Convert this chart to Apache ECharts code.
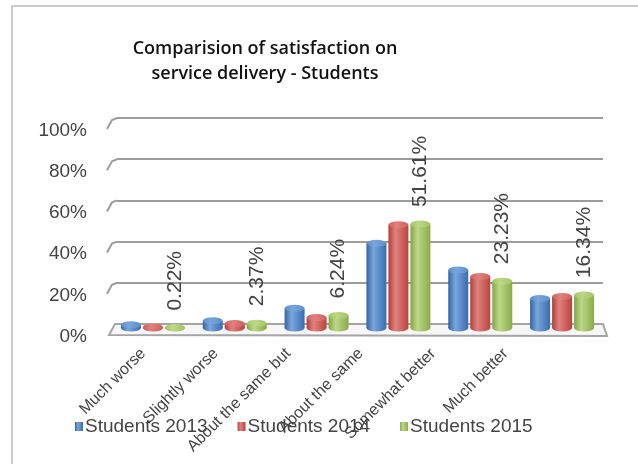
<!DOCTYPE html>
<html>
<head>
<meta charset="utf-8">
<script src="https://cdn.jsdelivr.net/npm/echarts@6/dist/echarts.min.js"></script>
<style>
  html, body { margin: 0; padding: 0; background: #ffffff; }
  #chart { width: 638px; height: 464px; }
</style>
</head>
<body>
<div id="chart"></div>
<script>
// Response categories and yearly shares (percent of students)
const categories = ['Much worse', 'Slightly worse', 'About the same but', 'About the same', 'Somewhat better', 'Much better'];
const seriesNames = ['Students 2013', 'Students 2014', 'Students 2015'];
const students2013 = [1.6, 3.6, 9.8, 42.0, 28.8, 14.7];
const students2014 = [0.5, 2.2, 5.2, 51.3, 25.6, 15.6];
const students2015 = [0.22, 2.37, 6.24, 51.61, 23.23, 16.34];
const yTicks = [0, 20, 40, 60, 80, 100];
const titleLines = ['Comparision of satisfaction on', 'service delivery - Students'];

// Cylinder shading per series: [edge, highlight, far edge, cap]
const palettes = [
  ['#3464a2', '#78a6dc', '#3a6cb0', '#5d8fcc'],
  ['#b03e3b', '#e0817e', '#b9443f', '#d0615d'],
  ['#84a444', '#bcd887', '#8bab4a', '#a3c463']
];
const values = [students2013, students2014, students2015];
const barW = 20;
const offsets = [-22, 0, 22];

function bodyGradient(p) {
  return new echarts.graphic.LinearGradient(0, 0, 1, 0, [
    { offset: 0, color: p[0] },
    { offset: 0.35, color: p[1] },
    { offset: 1, color: p[2] }
  ]);
}
function capGradient(p) {
  return new echarts.graphic.LinearGradient(0, 0, 1, 0, [
    { offset: 0, color: p[3] },
    { offset: 0.4, color: p[1] },
    { offset: 1, color: p[3] }
  ]);
}

const labelFont = 'Liberation Sans, Arial, sans-serif';
const textGray = '#444444';

const series = [];
values.forEach((vals, i) => {
  series.push({
    name: seriesNames[i],
    type: 'bar',
    xAxisIndex: 1,
    yAxisIndex: 1,
    data: vals,
    barWidth: barW,
    barGap: '10%',
    z: 3,
    itemStyle: { color: bodyGradient(palettes[i]) },
    label: i === 2 ? {
      show: true,
      position: 'top',
      rotate: 90,
      align: 'left',
      verticalAlign: 'middle',
      distance: 17,
      formatter: p => p.value.toFixed(2) + '%',
      fontFamily: labelFont,
      fontSize: 21,
      color: textGray
    } : { show: false }
  });
});
// elliptical bottoms and tops of the cylinders
values.forEach((vals, i) => {
  series.push({
    name: seriesNames[i] + ' base',
    type: 'pictorialBar',
    xAxisIndex: 1,
    yAxisIndex: 1,
    data: vals,
    symbol: 'circle',
    symbolSize: [barW, 7],
    symbolPosition: 'start',
    symbolOffset: [offsets[i], '50%'],
    z: 2,
    silent: true,
    itemStyle: { color: bodyGradient(palettes[i]) }
  });
  series.push({
    name: seriesNames[i] + ' top',
    type: 'pictorialBar',
    xAxisIndex: 1,
    yAxisIndex: 1,
    data: vals,
    symbol: 'circle',
    symbolSize: [barW, 7],
    symbolPosition: 'end',
    symbolOffset: [offsets[i], '-50%'],
    z: 4,
    silent: true,
    itemStyle: { color: capGradient(palettes[i]) }
  });
});

const chart = echarts.init(document.getElementById('chart'), null, { renderer: 'canvas' });

const option = {
  animation: false,
  backgroundColor: '#ffffff',
  color: palettes.map(p => p[2]),
  legend: {
    data: seriesNames,
    left: 70,
    top: 412,
    icon: 'rect',
    itemWidth: 8,
    itemHeight: 9,
    itemGap: 30,
    textStyle: { fontFamily: labelFont, fontSize: 19, color: textGray, padding: [8, 0, 0, -3] }
  },
  grid: [
    // back wall with the percentage scale
    { left: 117, right: 35, top: 118, bottom: 140 },
    // bars standing on the floor
    { left: 112, right: 35, top: 126.5, bottom: 136 },
    // front edge carrying the category names (foreshortened)
    { left: 107, right: 96, top: 126.5, bottom: 136 }
  ],
  xAxis: [
    { type: 'category', gridIndex: 0, data: categories, show: false },
    { type: 'category', gridIndex: 1, data: categories, show: false },
    {
      type: 'category', gridIndex: 2, data: categories,
      axisLine: { show: false }, axisTick: { show: false },
      axisLabel: {
        rotate: 45, margin: 23, interval: 0,
        fontFamily: labelFont, fontSize: 16, color: textGray
      }
    }
  ],
  yAxis: [
    {
      type: 'value', gridIndex: 0, min: 0, max: 100, interval: 20,
      axisLine: { show: false }, axisTick: { show: false },
      splitLine: { lineStyle: { color: '#9c9c9c', width: 2 } },
      axisLabel: {
        formatter: '{value}%', margin: 30,
        fontFamily: labelFont, fontSize: 19, color: textGray,
        verticalAlign: 'top', lineHeight: 25
      }
    },
    { type: 'value', gridIndex: 1, min: 0, max: 100, show: false },
    { type: 'value', gridIndex: 2, min: 0, max: 100, show: false }
  ],
  series: series
};
chart.setOption(option);

// Depth strokes of the back wall and the floor, placed from the wall axis scale
function drawFrame() {
  const grid = chart.getModel().getComponent('grid', 0).coordinateSystem.getRect();
  const x0 = grid.x;
  const x1 = grid.x + grid.width;
  const yZero = chart.convertToPixel({ yAxisIndex: 0 }, 0);
  const elements = [];
  yTicks.forEach(t => {
    if (t === 0) return;
    const y = chart.convertToPixel({ yAxisIndex: 0 }, t);
    elements.push({
      type: 'polyline', z: 1, silent: true,
      shape: { points: [[x0 - 10, y + 11], [x0 - 5, y + 2], [x0, y]] },
      style: { stroke: '#9c9c9c', lineWidth: 2, fill: null }
    });
  });
  elements.push({
    type: 'polygon', z: 1, silent: true,
    shape: { points: [[x0 - 2, yZero], [x1, yZero], [x1 + 4, yZero + 12], [x0 - 8, yZero + 11]] },
    style: { stroke: '#a4a4a4', lineWidth: 2, fill: '#f7f7f7' }
  });
  // outer frame edges
  elements.push({
    type: 'polyline', z: 1, silent: true,
    shape: { points: [[12, 470], [12, 6], [645, 6]] },
    style: { stroke: '#cccccc', lineWidth: 2, fill: null }
  });
  elements.push({
    type: 'text', z: 5,
    x: 265, y: 36,
    style: {
      text: titleLines.join('\n'),
      textAlign: 'center',
      textVerticalAlign: 'top',
      font: '600 18px "Open Sans", sans-serif',
      lineHeight: 25,
      fill: '#111111'
    }
  });
  chart.setOption({ graphic: { elements: elements } });
}
drawFrame();
</script>
</body>
</html>
